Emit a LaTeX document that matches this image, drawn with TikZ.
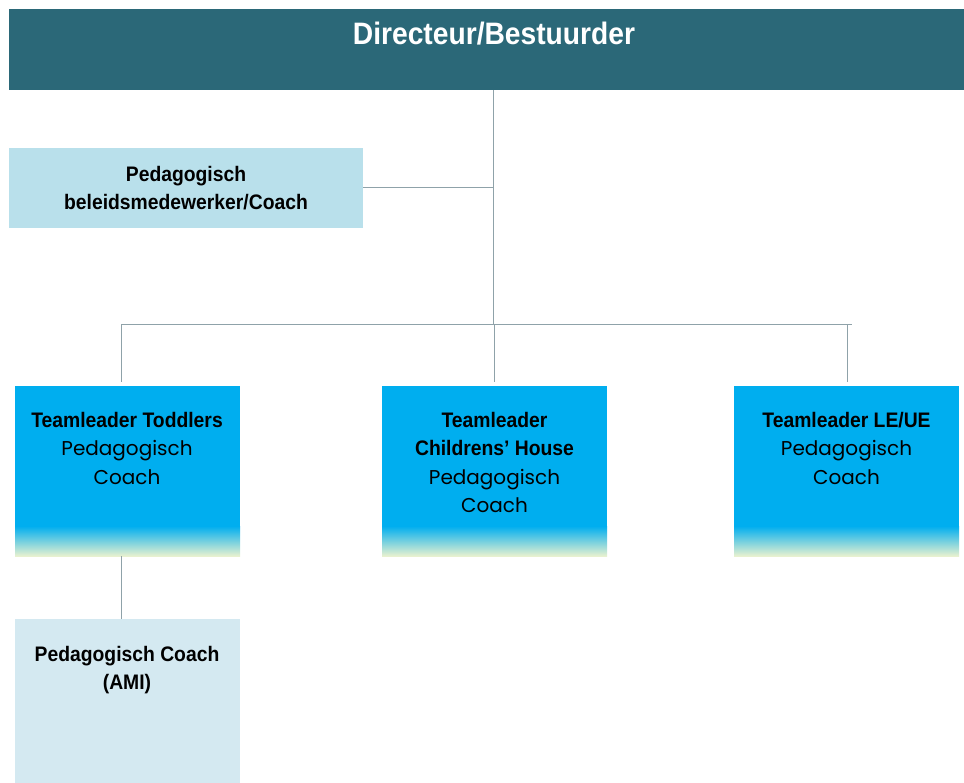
\documentclass[tikz,border=0pt]{standalone}
\usepackage{fontspec}
\setmainfont{Poppins}
\newfontfamily\condb[FakeStretch=0.92]{Liberation Sans}
\newfontfamily\condt[FakeStretch=0.91]{Liberation Sans}
\definecolor{banner}{HTML}{2B6878}
\definecolor{paleblue}{HTML}{B9E0EB}
\definecolor{amiblue}{HTML}{D4E9F1}
\definecolor{tlblue}{HTML}{00AEEF}
\definecolor{tlmid}{HTML}{7FD0EC}
\definecolor{tlpale}{HTML}{E8F1D0}
\definecolor{conn}{HTML}{8FA2A9}
\tikzset{
  box/.style={rectangle, draw=none, inner sep=0pt, outer sep=0pt, anchor=north west},
  tlbox/.style={box, fill=tlblue, minimum width=225pt, minimum height=170pt},
  boxtext/.style={anchor=north, inner sep=0pt, align=center, font=\fontsize{20}{28.5}\selectfont},
  conline/.style={draw=conn, line width=1pt}
}
\newcommand{\bt}[1]{{\condb\bfseries\fontsize{21}{28.5}\selectfont #1}}
\begin{document}
\begin{tikzpicture}[x=1pt,y=-1pt]
\useasboundingbox (0,0) rectangle (964,783);
% banner
\node[box, fill=banner, minimum width=955pt, minimum height=81pt] (banner) at (9,9) {};
\node[anchor=base, inner sep=0pt, text=white, font=\condt\bfseries\fontsize{31}{34}\selectfont] (title) at (494,45) {Directeur/Bestuurder};
% pedagogisch beleidsmedewerker
\node[box, fill=paleblue, minimum width=354pt, minimum height=80pt] (pbc) at (9,148) {};
\node[inner sep=0pt, align=center, font=\fontsize{20}{28}\selectfont] (pbctext) at (186,188) {\bt{Pedagogisch}\\\bt{beleidsmedewerker/Coach}};
% teamleader boxes
\node[tlbox] (tl1) at (15,386) {};
\node[tlbox] (tl2) at (382,386) {};
\node[tlbox] (tl3) at (734,386) {};
\foreach \b in {tl1,tl2,tl3}{
  \shade[top color=tlblue, middle color=tlmid, bottom color=tlpale]
    ([yshift=30pt]\b.south west) rectangle (\b.south east);
}
\node[boxtext] (tl1text) at (127,412) {\bt{Teamleader Toddlers}\\Pedagogisch\\Coach};
\node[boxtext] (tl2text) at (494.5,412) {\bt{Teamleader}\\\bt{Childrens’ House}\\Pedagogisch\\Coach};
\node[boxtext] (tl3text) at (846.5,412) {\bt{Teamleader LE/UE}\\Pedagogisch\\Coach};
% AMI box
\node[box, fill=amiblue, minimum width=225pt, minimum height=170pt] (ami) at (15,619) {};
\node[boxtext] (amitext) at (127,646) {\bt{Pedagogisch Coach}\\\bt{(AMI)}};
% connectors
\coordinate (j1) at (493,188);
\coordinate (j2) at (493,325);
\coordinate (hl) at (121,325);
\coordinate (hr) at (852,325);
\coordinate (v2) at (494,325);
\coordinate (v3) at (847,325);
\draw[conline] (banner.south -| j1) -- (j2);
\draw[conline] (pbc.east |- j1) -- (j1);
\draw[conline] (hl) -- (hr);
\draw[conline] (hl) -- ([yshift=4pt]hl |- tl1.north);
\draw[conline] (v2) -- ([yshift=4pt]v2 |- tl2.north);
\draw[conline] (v3) -- ([yshift=4pt]v3 |- tl3.north);
\draw[conline] (hl |- tl1.south) -- (hl |- ami.north);
\end{tikzpicture}
\end{document}
